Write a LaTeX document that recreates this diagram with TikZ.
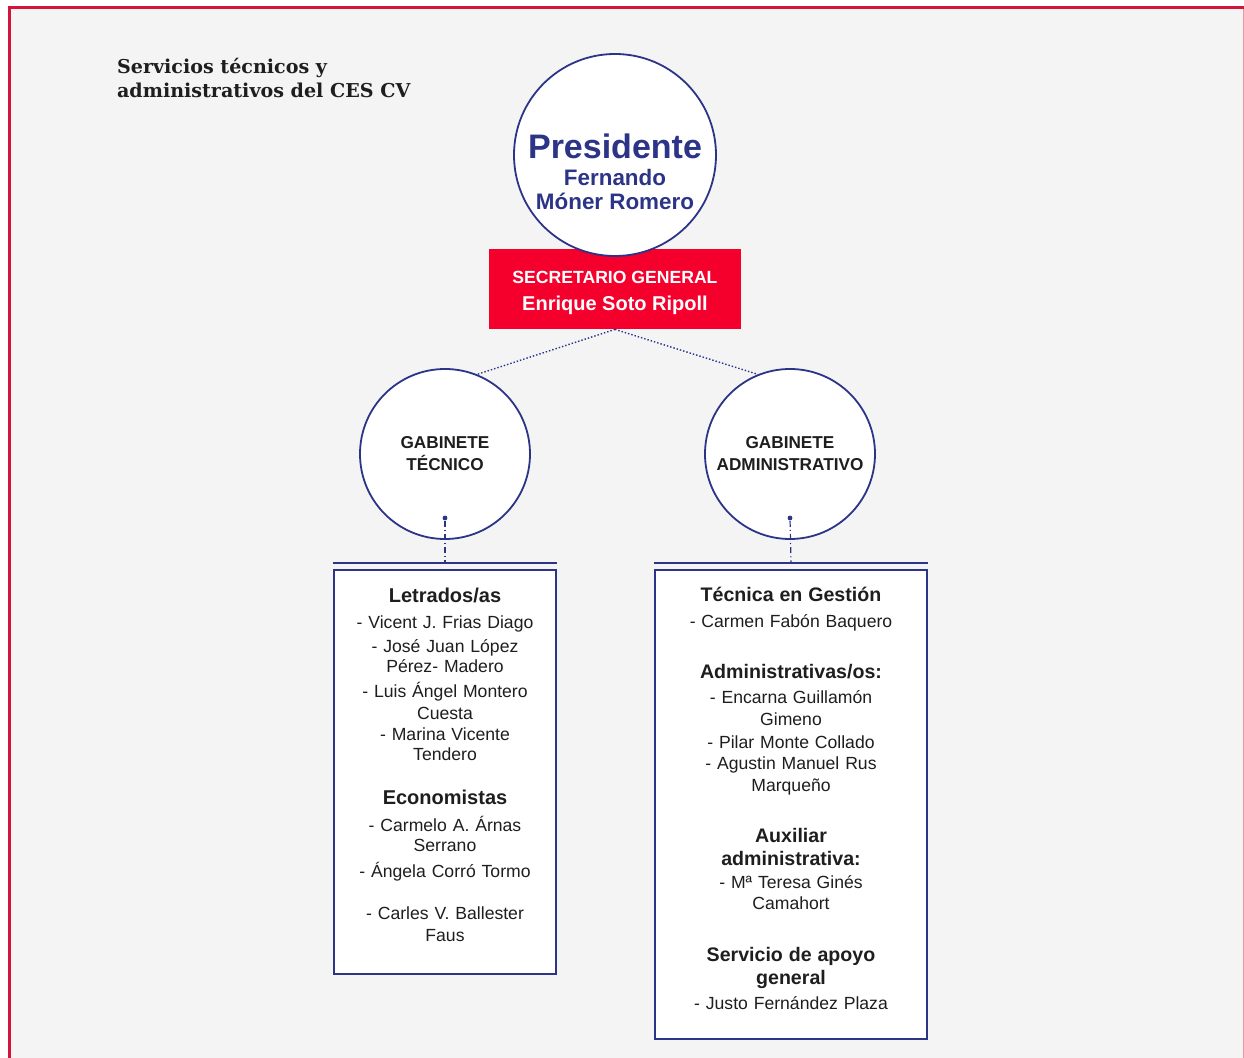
\documentclass[tikz,border=0pt]{standalone}
\usepackage{fontspec}
\setmainfont{Liberation Sans}
\newfontfamily\titlefont{DejaVu Serif}
\usepackage{tikz}
\usepackage{xcolor}
\definecolor{marino}{HTML}{2C3487}
\definecolor{rojo}{HTML}{F5002D}
\definecolor{marco}{HTML}{D2163A}
\definecolor{fondo}{HTML}{F4F4F4}
\definecolor{texto}{HTML}{1E1E1E}

\begin{document}
\begin{tikzpicture}[x=0.5pt,y=-0.5pt,
  circulo/.style={circle, draw=marino, line width=0.9pt, fill=white, inner sep=0pt},
  gabinete/.style={circulo, minimum size=85pt, align=center, text=texto, font=\bfseries\fontsize{8.6}{11}\selectfont},
  caja/.style={rectangle, draw=marino, line width=0.9pt, fill=white, anchor=north, inner sep=3pt, align=center, text=texto, font=\fontsize{8.8}{10}\selectfont},
  punto/.style={circle, fill=marino, inner sep=0pt, minimum size=2.4pt},
  enlace/.style={marino, line width=0.7pt, densely dotted},
  bajada/.style={marino, line width=0.6pt, dash pattern=on 3pt off 1.5pt on 0.6pt off 1.5pt}]

\useasboundingbox (0,0) rectangle (1244,1058);
\fill[white] (0,0) rectangle (1244,1058);
\fill[fondo] (9.5,7.5) rectangle (1243,1058);
\draw[marco!45, line width=0.5pt] (1243,7.5) -- (1243,1058);
\draw[marco, line width=1.5pt] (9.5,1058) -- (9.5,7.5) -- (1244,7.5);

\node[anchor=north west, align=left, text=texto, font=\titlefont\bfseries\fontsize{9.55}{12}\selectfont] (titulo) at (110,51) {Servicios técnicos y\\administrativos del CES CV};

\node[rectangle, fill=rojo, minimum width=126pt, minimum height=40pt, text=white, align=center, font=\bfseries\fontsize{8.8}{13.5}\selectfont] (secretario) at (615,289) {\rule{0pt}{9.6pt}SECRETARIO GENERAL\\{\fontsize{10}{13.5}\selectfont Enrique Soto Ripoll}};

\node[circulo, minimum size=101pt] (presidente) at (615,155) {};
\node[text=marino, align=center, font=\bfseries\fontsize{11.2}{12}\selectfont] (nombre) at (615,171.5) {{\fontsize{17}{12}\selectfont Presidente}\\[1.5pt]Fernando\\Móner Romero};

\node[gabinete] (tecnico) at (445,454) {GABINETE\\TÉCNICO};
\node[gabinete] (administrativo) at (790,454) {GABINETE\\ADMINISTRATIVO};

\draw[enlace] (secretario.south) -- (tecnico.68);
\draw[enlace] (secretario.south) -- (administrativo.112);

\node[caja, text width=105pt, minimum height=202pt] (letrados) at (445,569) {
{\bfseries\fontsize{10}{10}\selectfont Letrados/as}\\[3pt]
- Vicent J. Frias Diago\\[2pt]
- José Juan López\\
Pérez- Madero\\[2.5pt]
- Luis Ángel Montero\\[1pt]
Cuesta\\[0.5pt]
- Marina Vicente\\
Tendero\\[12pt]
{\bfseries\fontsize{10}{10}\selectfont Economistas}\\[3.5pt]
- Carmelo A. Árnas\\
Serrano\\[3pt]
- Ángela Corró Tormo\\[11pt]
- Carles V. Ballester\\[1pt]
Faus\par\vspace{7.5pt}};

\node[caja, text width=130pt, minimum height=234.5pt] (gestion) at (791,569) {
{\bfseries\fontsize{9.8}{10}\selectfont Técnica en Gestión}\\[3pt]
- Carmen Fabón Baquero\\[15.5pt]
{\bfseries\fontsize{9.8}{10}\selectfont Administrativas/os:}\\[2.5pt]
- Encarna Guillamón\\[1pt]
Gimeno\\[1.5pt]
- Pilar Monte Collado\\[0.5pt]
- Agustin Manuel Rus\\[1pt]
Marqueño\\[15.5pt]
{\bfseries\fontsize{9.8}{10}\selectfont Auxiliar}\\[1.5pt]
{\bfseries\fontsize{9.8}{10}\selectfont administrativa:}\\[1.5pt]
- Mª Teresa Ginés\\[0.5pt]
Camahort\\[16pt]
{\bfseries\fontsize{9.8}{10}\selectfont Servicio de apoyo}\\[1.5pt]
{\bfseries\fontsize{9.8}{10}\selectfont general}\\[2.5pt]
- Justo Fernández Plaza\par\vspace{6pt}};

\draw[marino, line width=0.9pt] ([yshift=3pt]letrados.north west) -- ([yshift=3pt]letrados.north east);
\draw[marino, line width=0.9pt] ([yshift=3pt]gestion.north west) -- ([yshift=3pt]gestion.north east);

\node[punto] (puntoT) at ([yshift=-32pt]tecnico.center) {};
\node[punto] (puntoA) at ([yshift=-32pt]administrativo.center) {};
\draw[bajada] (puntoT) -- ([yshift=3pt]letrados.north);
\draw[bajada] (puntoA) -- ([yshift=3pt]gestion.north);
\end{tikzpicture}
\end{document}
